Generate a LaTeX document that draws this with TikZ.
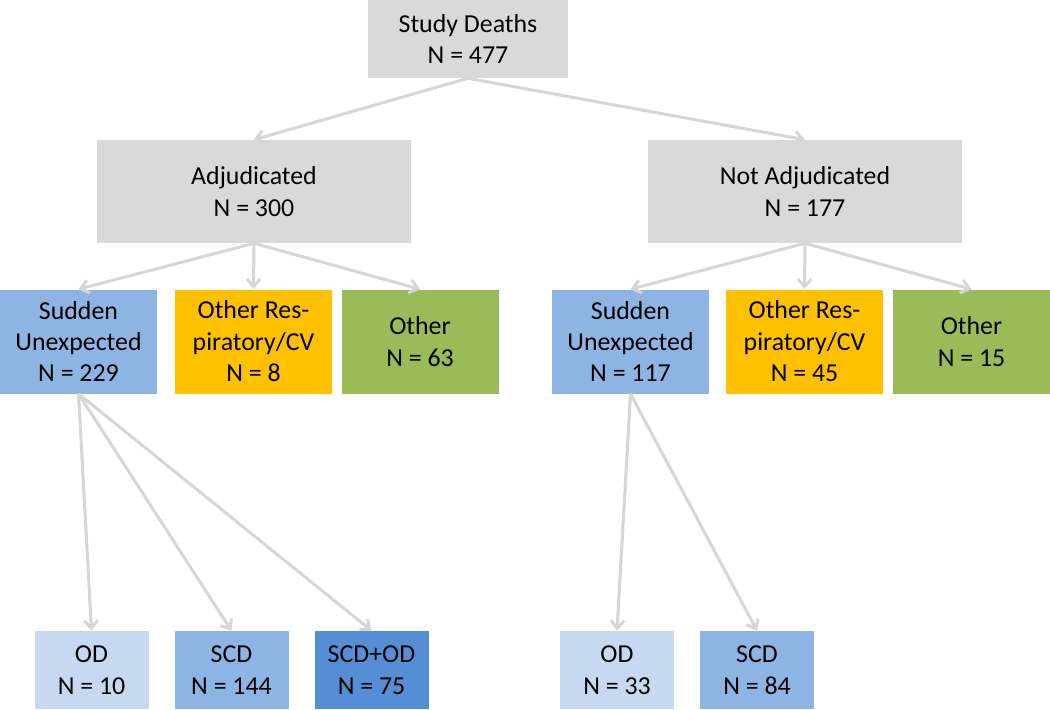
\documentclass[tikz,border=0pt]{standalone}
\usepackage{fontspec}
\setmainfont{Carlito}
\usepackage{tikz}
\usetikzlibrary{arrows.meta}
\definecolor{boxgray}{HTML}{D9D9D9}
\definecolor{boxblue}{HTML}{8EB4E3}
\definecolor{boxorange}{HTML}{FFC000}
\definecolor{boxgreen}{HTML}{9BBB59}
\definecolor{boxlight}{HTML}{C6D9F1}
\definecolor{boxdark}{HTML}{558ED5}
\definecolor{linegray}{HTML}{D6D6D6}
\tikzstyle{base} = [rectangle, inner sep=0pt, text centered, align=center, font=\fontsize{19.4}{23.6}\selectfont]
\tikzstyle{topbox} = [base, minimum width=150pt, minimum height=58.5pt, fill=boxgray]
\tikzstyle{midbox} = [base, minimum width=235.5pt, minimum height=77.25pt, fill=boxgray]
\tikzstyle{catbox} = [base, minimum width=117.75pt, minimum height=78pt]
\tikzstyle{subbox} = [base, minimum width=85.5pt, minimum height=58.5pt]
\tikzstyle{arrow} = [line width=2.25pt, draw=linegray, -{Straight Barb[length=6pt, width=10pt]}]

\begin{document}
\begin{tikzpicture}[x=0.75pt, y=-0.75pt]
        \useasboundingbox (0,0) rectangle (1050,710);

        % Awal
        \node (start) [topbox] at (468,39) {Study Deaths\\N = 477};

        % Tingkat 1
        \node (adj) [midbox] at (254,191.5) {Adjudicated\\N = 300};
        \node (nadj) [midbox] at (805,191.5) {Not Adjudicated\\N = 177};

        % Tingkat 2: Adjudicated
        \node (suddenL) [catbox, fill=boxblue] at (78.5,341.5) {Sudden\\Unexpected\\N = 229};
        \node (respL) [catbox, fill=boxorange] at (253.5,341.5) {Other Res-\\piratory/CV\\N = 8};
        \node (otherL) [catbox, fill=boxgreen] at (420,341.5) {Other\\N = 63};

        % Tingkat 2: Not Adjudicated
        \node (suddenR) [catbox, fill=boxblue] at (630.5,341.5) {Sudden\\Unexpected\\N = 117};
        \node (respR) [catbox, fill=boxorange] at (804.5,341.5) {Other Res-\\piratory/CV\\N = 45};
        \node (otherR) [catbox, fill=boxgreen] at (971.5,341.5) {Other\\N = 15};

        % Tingkat 3
        \node (odL) [subbox, fill=boxlight] at (91.5,670) {OD\\N = 10};
        \node (scdL) [subbox, fill=boxblue] at (231.5,670) {SCD\\N = 144};
        \node (scdodL) [subbox, fill=boxdark] at (371.5,670) {SCD+OD\\N = 75};
        \node (odR) [subbox, fill=boxlight] at (617,670) {OD\\N = 33};
        \node (scdR) [subbox, fill=boxblue] at (757,670) {SCD\\N = 84};

        % Garis Panah
        \draw [arrow] (start.south) -- (adj.north);
        \draw [arrow] (start.south) -- (nadj.north);
        \draw [arrow] (adj.south) -- (suddenL.north);
        \draw [arrow] (adj.south) -- (respL.north);
        \draw [arrow] (adj.south) -- (otherL.north);
        \draw [arrow] (nadj.south) -- (suddenR.north);
        \draw [arrow] (nadj.south) -- (respR.north);
        \draw [arrow] (nadj.south) -- (otherR.north);
        \draw [arrow] (suddenL.south) -- (odL.north);
        \draw [arrow] (suddenL.south) -- (scdL.north);
        \draw [arrow] (suddenL.south) -- (scdodL.north);
        \draw [arrow] (suddenR.south) -- (odR.north);
        \draw [arrow] (suddenR.south) -- (scdR.north);
    \end{tikzpicture}
\end{document}
